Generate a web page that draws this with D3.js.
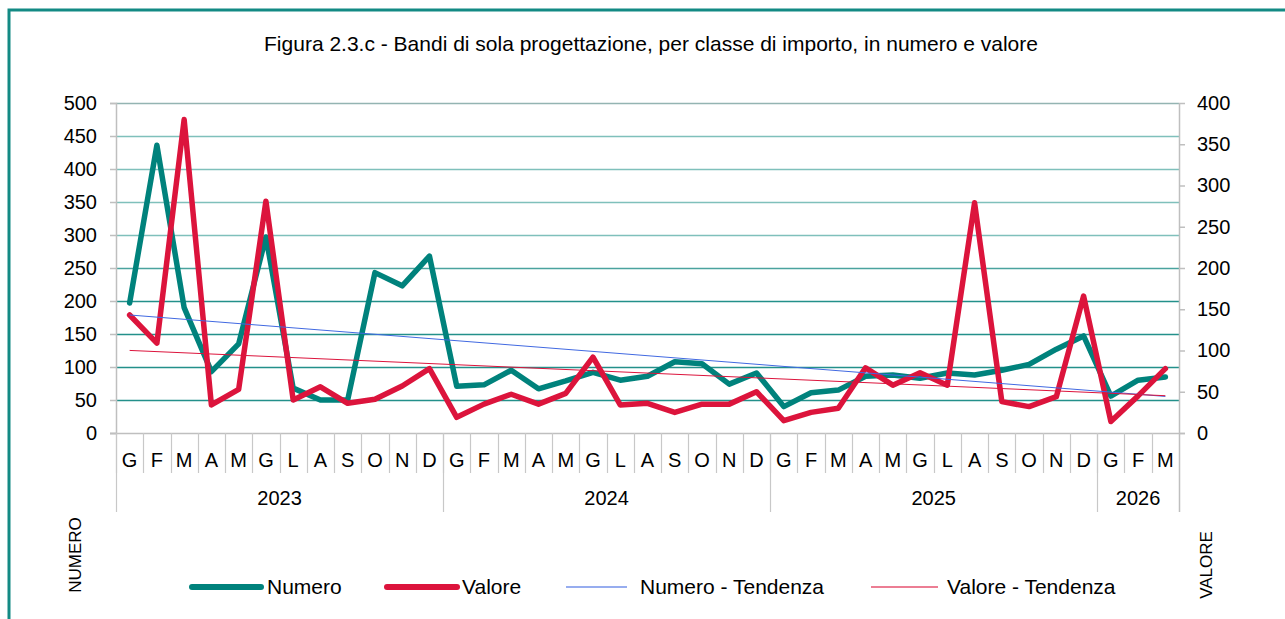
<!DOCTYPE html>
<html>
<head>
<meta charset="utf-8">
<script src="https://cdn.jsdelivr.net/npm/d3@7"></script>
<style>
  body { margin: 0; background: #fff; }
  svg { font-family: "Liberation Sans", Arial, sans-serif; display: block; }
  .axis-font text { font-size: 20px; fill: #000; }
</style>
</head>
<body>
<div id="vis"></div>
<script>
const FRAME_HEIGHT = 619;
const FRAME_WIDTH = 1285;
const MARGINS = {left: 116, right: 106, top: 103, bottom: 186};

const VIS_LEFT = MARGINS.left;
const VIS_RIGHT = FRAME_WIDTH - MARGINS.right;
const VIS_TOP = MARGINS.top;
const VIS_BOTTOM = FRAME_HEIGHT - MARGINS.bottom;

// data
const MONTHS = ["G","F","M","A","M","G","L","A","S","O","N","D",
                "G","F","M","A","M","G","L","A","S","O","N","D",
                "G","F","M","A","M","G","L","A","S","O","N","D",
                "G","F","M"];
const YEARS = ["2023", "2024", "2025", "2026"];
const YEAR_COUNTS = [12, 12, 12, 3];
const NUMERO = [197, 436, 190, 93, 135, 297, 68, 50, 50, 243, 223, 268,
                71, 73, 95, 67, 79, 92, 80, 86, 108, 105, 74, 91,
                40, 61, 65, 86, 88, 83, 91, 88, 95, 104, 127, 147,
                56, 80, 85];
const VALORE = [143, 109, 380, 34, 53, 281, 40, 56, 36, 41, 57, 78,
                19, 35, 47, 35, 48, 92, 34, 36, 25, 35, 35, 50,
                15, 25, 30, 79, 58, 73, 58, 279, 38, 32, 44, 166,
                14, 45, 78];
const LEFT_TICKS = [0, 50, 100, 150, 200, 250, 300, 350, 400, 450, 500];
const RIGHT_TICKS = [0, 50, 100, 150, 200, 250, 300, 350, 400];

const TITLE = "Figura 2.3.c - Bandi di sola progettazione, per classe di importo, in numero e valore";

const TEAL = "#00827c";
const RED = "#dc143c";

const FRAME = d3.select("#vis")
                .append("svg")
                .attr("width", FRAME_WIDTH)
                .attr("height", FRAME_HEIGHT);

// outer border
FRAME.append("rect")
     .attr("x", 9).attr("y", 10)
     .attr("width", 1400).attr("height", 800)
     .attr("fill", "none")
     .attr("stroke", "#138a84")
     .attr("stroke-width", 3);

FRAME.append("text")
     .attr("x", 651).attr("y", 51)
     .attr("text-anchor", "middle")
     .style("font-size", "21px")
     .text(TITLE);

const idx = MONTHS.map((d, i) => i);

const X_SCALE = d3.scaleBand()
                  .domain(idx)
                  .range([VIS_LEFT, VIS_RIGHT]);

const Y_LEFT = d3.scaleLinear()
                 .domain([0, 500])
                 .range([VIS_BOTTOM, VIS_TOP]);

const Y_RIGHT = d3.scaleLinear()
                  .domain([0, 400])
                  .range([VIS_BOTTOM, VIS_TOP]);

// gridlines
function gridColor(v) {
  if (v == 500) return "#94b4b2";
  if (v >= 300) return "#7fc0bb";
  if (v == 250) return "#4aa39e";
  return "#23908a";
}
FRAME.selectAll(".grid")
     .data(LEFT_TICKS.filter(d => d > 0))
     .enter()
     .append("line")
       .attr("x1", VIS_LEFT).attr("x2", VIS_RIGHT)
       .attr("y1", d => Math.round(Y_LEFT(d)) + 0.5)
       .attr("y2", d => Math.round(Y_LEFT(d)) + 0.5)
       .attr("stroke", d => gridColor(d))
       .attr("stroke-width", 1.5);

// left axis
const leftAxis = FRAME.append("g")
     .attr("transform", "translate(" + VIS_LEFT + ",0)")
     .call(d3.axisLeft(Y_LEFT).tickValues(LEFT_TICKS).tickSize(6).tickPadding(13))
     .attr("class", "axis-font");
leftAxis.select(".domain").attr("stroke", "#bfbfbf").attr("stroke-width", 1.5);
leftAxis.selectAll(".tick line").attr("stroke", "#bfbfbf").attr("stroke-width", 1.5);

// right axis
const rightAxis = FRAME.append("g")
     .attr("transform", "translate(" + VIS_RIGHT + ",0)")
     .call(d3.axisRight(Y_RIGHT).tickValues(RIGHT_TICKS).tickSize(6).tickPadding(12))
     .attr("class", "axis-font");
rightAxis.select(".domain").remove();
rightAxis.selectAll(".tick line").attr("stroke", "#bfbfbf").attr("stroke-width", 1.5);

// right axis line down to year row
FRAME.append("line")
     .attr("x1", VIS_RIGHT + 0.5).attr("x2", VIS_RIGHT + 0.5)
     .attr("y1", VIS_TOP).attr("y2", 512)
     .attr("stroke", "#bfbfbf").attr("stroke-width", 1.5);

// bottom axis line
FRAME.append("line")
     .attr("x1", VIS_LEFT - 6).attr("x2", VIS_RIGHT + 6)
     .attr("y1", VIS_BOTTOM + 0.5).attr("y2", VIS_BOTTOM + 0.5)
     .attr("stroke", "#bfbfbf").attr("stroke-width", 1.5);

// month dividers and labels
const bw = X_SCALE.bandwidth();
FRAME.selectAll(".mdiv")
     .data(idx)
     .enter()
     .append("line")
       .attr("x1", d => Math.round(X_SCALE(d)) + 0.5)
       .attr("x2", d => Math.round(X_SCALE(d)) + 0.5)
       .attr("y1", VIS_BOTTOM).attr("y2", 473)
       .attr("stroke", "#c8c8c8").attr("stroke-width", 1.2);

FRAME.selectAll(".mlabel")
     .data(idx)
     .enter()
     .append("text")
       .attr("x", d => X_SCALE(d) + bw / 2)
       .attr("y", 467)
       .attr("text-anchor", "middle")
       .style("font-size", "20px")
       .text(d => MONTHS[d]);

// year dividers and labels
let start = 0;
const yearStarts = YEAR_COUNTS.map((c) => { const s = start; start += c; return s; });
FRAME.selectAll(".ydiv")
     .data(yearStarts)
     .enter()
     .append("line")
       .attr("x1", d => Math.round(X_SCALE(d)) + 0.5)
       .attr("x2", d => Math.round(X_SCALE(d)) + 0.5)
       .attr("y1", VIS_BOTTOM).attr("y2", 512)
       .attr("stroke", "#c8c8c8").attr("stroke-width", 1.2);

FRAME.selectAll(".ylabel")
     .data(YEARS)
     .enter()
     .append("text")
       .attr("x", (d, i) => {
         const a = X_SCALE(yearStarts[i]);
         const b = X_SCALE(yearStarts[i] + YEAR_COUNTS[i] - 1) + bw;
         return (a + b) / 2;
       })
       .attr("y", 505)
       .attr("text-anchor", "middle")
       .style("font-size", "20px")
       .text(d => d);

// trend lines (least squares, like the spreadsheet)
function trend(values) {
  const n = values.length;
  const mx = d3.mean(idx);
  const my = d3.mean(values);
  let sxy = 0, sxx = 0;
  idx.forEach((i) => { sxy += (i - mx) * (values[i] - my); sxx += (i - mx) * (i - mx); });
  const b = sxy / sxx;
  const a = my - b * mx;
  return [0, n - 1].map(i => ({i: i, v: a + b * i}));
}

const cx = (i) => X_SCALE(i) + bw / 2;

const lineLeft = d3.line().x(d => cx(d.i)).y(d => Y_LEFT(d.v));
const lineRight = d3.line().x(d => cx(d.i)).y(d => Y_RIGHT(d.v));

const numeroData = NUMERO.map((v, i) => ({i: i, v: v}));
const valoreData = VALORE.map((v, i) => ({i: i, v: v}));

FRAME.append("path")
     .datum(numeroData)
     .attr("d", lineLeft)
     .attr("fill", "none")
     .attr("stroke", TEAL)
     .attr("stroke-width", 5.5)
     .attr("stroke-linejoin", "round")
     .attr("stroke-linecap", "round");

FRAME.append("path")
     .datum(valoreData)
     .attr("d", lineRight)
     .attr("fill", "none")
     .attr("stroke", RED)
     .attr("stroke-width", 5.5)
     .attr("stroke-linejoin", "round")
     .attr("stroke-linecap", "round");

FRAME.append("path")
     .datum(trend(NUMERO))
     .attr("d", lineLeft)
     .attr("fill", "none")
     .attr("stroke", "#4169e1")
     .attr("stroke-width", 1);

FRAME.append("path")
     .datum(trend(VALORE))
     .attr("d", lineRight)
     .attr("fill", "none")
     .attr("stroke", RED)
     .attr("stroke-width", 1);

// axis titles
FRAME.append("text")
     .attr("transform", "translate(81,555) rotate(-90)")
     .attr("text-anchor", "middle")
     .style("font-size", "17px")
     .text("NUMERO");

FRAME.append("text")
     .attr("transform", "translate(1212,565) rotate(-90)")
     .attr("text-anchor", "middle")
     .style("font-size", "17px")
     .text("VALORE");

// legend
const LEGEND = [
  {label: "Numero", color: TEAL, width: 6, x1: 192, x2: 261, tx: 267, op: 1},
  {label: "Valore", color: RED, width: 6, x1: 387, x2: 457, tx: 462, op: 1},
  {label: "Numero - Tendenza", color: "#4169e1", width: 2, x1: 566, x2: 627, tx: 640, op: 0.55},
  {label: "Valore - Tendenza", color: RED, width: 2, x1: 871, x2: 938, tx: 947, op: 0.55}
];
const lg = FRAME.selectAll(".legend")
     .data(LEGEND)
     .enter()
     .append("g");
lg.append("line")
  .attr("x1", d => d.x1).attr("x2", d => d.x2)
  .attr("y1", 587).attr("y2", 587)
  .attr("stroke", d => d.color)
  .attr("stroke-opacity", d => d.op)
  .attr("stroke-width", d => d.width)
  .attr("stroke-linecap", d => d.width > 3 ? "round" : "butt");
lg.append("text")
  .attr("x", d => d.tx)
  .attr("y", 594)
  .style("font-size", "21px")
  .text(d => d.label);
</script>
</body>
</html>
